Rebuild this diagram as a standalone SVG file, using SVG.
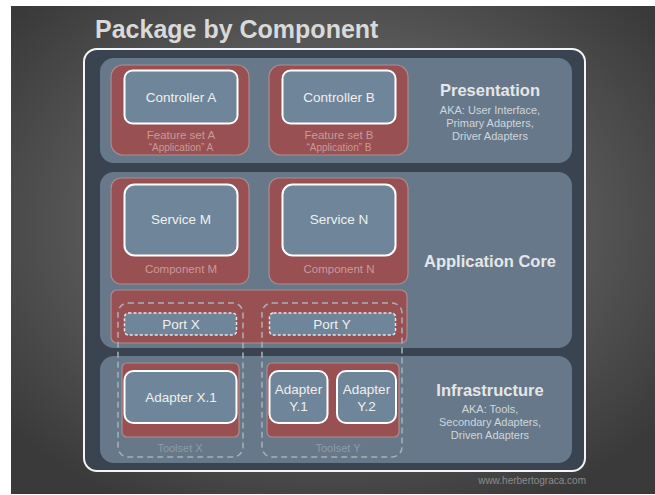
<svg xmlns="http://www.w3.org/2000/svg" width="655" height="495" viewBox="0 0 655 495">
  <defs>
    <radialGradient id="bg" cx="50%" cy="45%" r="65%">
      <stop offset="0" stop-color="#6c6c6c"/>
      <stop offset="0.6" stop-color="#565656"/>
      <stop offset="1" stop-color="#3a3a3a"/>
    </radialGradient>
    <style>
      .frame { fill: #3a4451; stroke: #f4f4f4; stroke-width: 2; }
      .layer { fill: #66788a; }
      .pkg { fill: #985052; stroke: #ab8e90; stroke-width: 1.2; }
      .unit { fill: #6f8599; stroke: #ffffff; stroke-width: 2; }
      .port { fill: #6f8599; stroke: #e6e6e6; stroke-width: 1.5; stroke-dasharray: 3 2; }
      .toolset { fill: none; stroke: #a9b0b8; stroke-width: 1.5; stroke-dasharray: 6 4; }
      text { font-family: "Liberation Sans", Arial, sans-serif; text-anchor: middle; }
      .title { font-size: 25px; font-weight: bold; fill: #d9d9d9; text-anchor: start; }
      .lbl { font-size: 13.5px; fill: #f0f0f0; }
      .pkglbl { font-size: 11.5px; fill: #c99a9b; }
      .pkgsub { font-size: 10px; fill: #c99a9b; }
      .layername { font-size: 16.5px; font-weight: bold; fill: #e6e6e6; }
      .layernote { font-size: 11px; fill: #d0d6dc; }
      .toolsetlbl { font-size: 11px; fill: #8e9baa; }
      .credit { font-size: 10px; fill: #8c8c8c; text-anchor: end; }
    </style>
  </defs>

  <!-- backdrop -->
  <rect x="11" y="6" width="644" height="488" fill="url(#bg)"/>

  <text class="title" x="95" y="38">Package by Component</text>

  <!-- outer boundary -->
  <rect class="frame" x="84" y="49" width="501" height="422" rx="13"/>

  <!-- layers -->
  <g id="layer-presentation">
    <rect class="layer" x="100" y="58" width="472" height="105" rx="14"/>
    <text class="layername" x="490" y="96">Presentation</text>
    <text class="layernote" x="490" y="114">AKA: User Interface,</text>
    <text class="layernote" x="490" y="127">Primary Adapters,</text>
    <text class="layernote" x="490" y="140">Driver Adapters</text>
  </g>
  <g id="layer-core">
    <rect class="layer" x="100" y="172" width="472" height="176" rx="14"/>
    <text class="layername" x="490" y="267">Application Core</text>
  </g>
  <g id="layer-infrastructure">
    <rect class="layer" x="100" y="356" width="472" height="107" rx="14"/>
    <text class="layername" x="490" y="396">Infrastructure</text>
    <text class="layernote" x="490" y="413">AKA: Tools,</text>
    <text class="layernote" x="490" y="426">Secondary Adapters,</text>
    <text class="layernote" x="490" y="439">Driven Adapters</text>
  </g>

  <!-- presentation: feature sets -->
  <g id="feature-set-a">
    <rect class="pkg" x="111" y="65" width="138" height="90" rx="12"/>
    <rect class="unit" x="124.5" y="70.5" width="113" height="53" rx="8"/>
    <text class="lbl" x="181" y="102">Controller A</text>
    <text class="pkglbl" x="181" y="139">Feature set A</text>
    <text class="pkgsub" x="181" y="151">“Application” A</text>
  </g>
  <g id="feature-set-b">
    <rect class="pkg" x="269" y="65" width="139" height="90" rx="12"/>
    <rect class="unit" x="282.5" y="70.5" width="113" height="53" rx="8"/>
    <text class="lbl" x="339" y="102">Controller B</text>
    <text class="pkglbl" x="339" y="139">Feature set B</text>
    <text class="pkgsub" x="339" y="151">“Application” B</text>
  </g>

  <!-- application core: components -->
  <g id="component-m">
    <rect class="pkg" x="111" y="178" width="138" height="106" rx="10"/>
    <rect class="unit" x="124.5" y="184.5" width="113" height="71" rx="10"/>
    <text class="lbl" x="181" y="224">Service M</text>
    <text class="pkglbl" x="181" y="273">Component M</text>
  </g>
  <g id="component-n">
    <rect class="pkg" x="269" y="178" width="139" height="106" rx="10"/>
    <rect class="unit" x="282.5" y="184.5" width="113" height="71" rx="10"/>
    <text class="lbl" x="339" y="224">Service N</text>
    <text class="pkglbl" x="339" y="273">Component N</text>
  </g>

  <!-- application core: ports -->
  <g id="ports">
    <rect class="pkg" x="111" y="290" width="296" height="53" rx="6"/>
  </g>
  <g id="port-x">
    <rect class="port" x="124.5" y="313" width="112" height="22" rx="4"/>
    <text class="lbl" x="181" y="329">Port X</text>
  </g>
  <g id="port-y">
    <rect class="port" x="269.5" y="313" width="126" height="22" rx="4"/>
    <text class="lbl" x="332" y="329">Port Y</text>
  </g>

  <!-- infrastructure: adapters -->
  <g id="adapters-x">
    <rect class="pkg" x="122" y="363" width="117" height="74" rx="5"/>
  </g>
  <g id="adapter-x1">
    <rect class="unit" x="124.5" y="371" width="112" height="52" rx="9"/>
    <text class="lbl" x="181" y="402">Adapter X.1</text>
  </g>
  <g id="adapters-y">
    <rect class="pkg" x="267" y="363" width="132" height="74" rx="5"/>
  </g>
  <g id="adapter-y1">
    <rect class="unit" x="269.5" y="371" width="58" height="52" rx="9"/>
    <text class="lbl" x="298.5" y="394">Adapter</text>
    <text class="lbl" x="298.5" y="411">Y.1</text>
  </g>
  <g id="adapter-y2">
    <rect class="unit" x="337" y="371" width="59" height="52" rx="9"/>
    <text class="lbl" x="366.5" y="394">Adapter</text>
    <text class="lbl" x="366.5" y="411">Y.2</text>
  </g>

  <!-- toolsets spanning ports and adapters -->
  <g id="toolset-x">
    <rect class="toolset" x="118" y="303" width="125" height="154" rx="10"/>
    <text class="toolsetlbl" x="180" y="452">Toolset X</text>
  </g>
  <g id="toolset-y">
    <rect class="toolset" x="262" y="303" width="140" height="154" rx="10"/>
    <text class="toolsetlbl" x="338" y="452">Toolset Y</text>
  </g>

  <text class="credit" x="586" y="484">www.herbertograca.com</text>
</svg>
